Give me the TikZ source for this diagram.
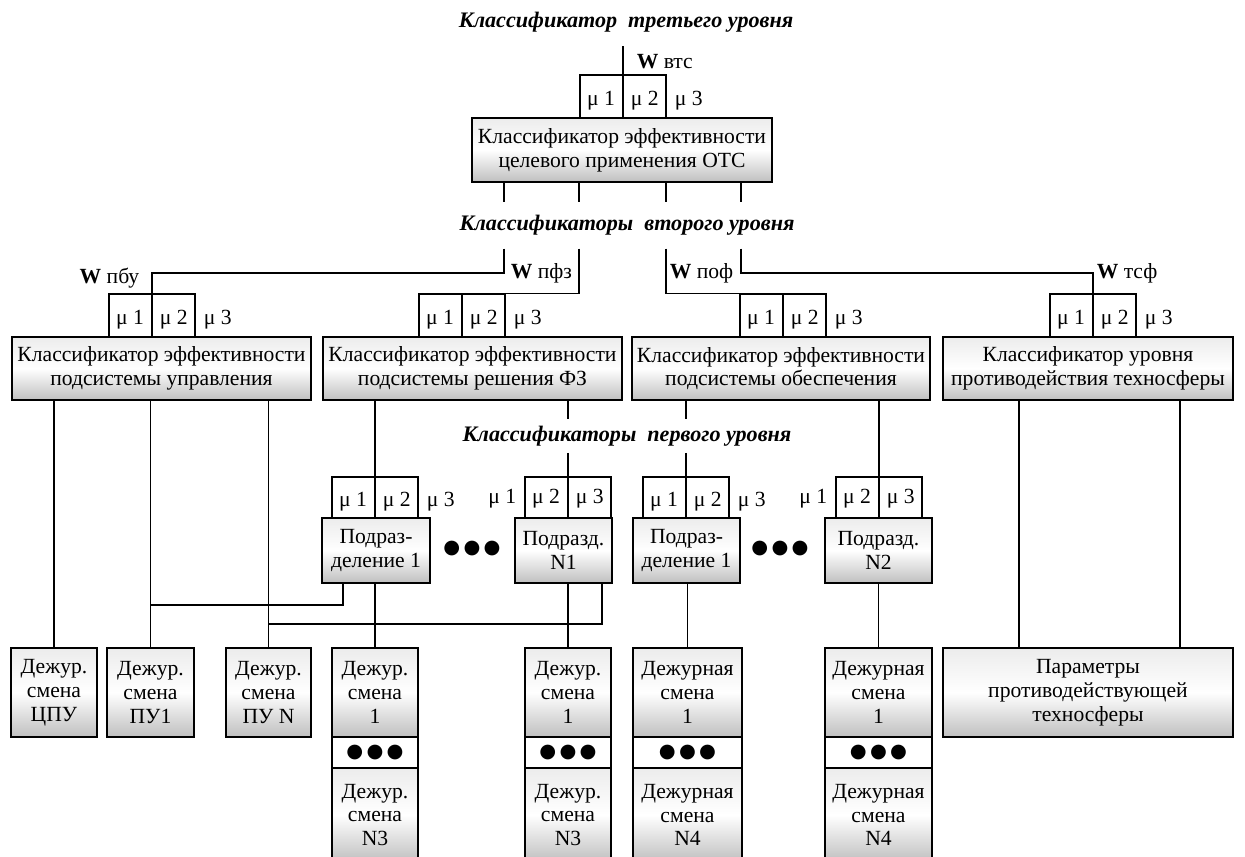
\documentclass[tikz,border=0pt]{standalone}
\usepackage{fontspec}
\setmainfont{Liberation Serif}
\newfontfamily\dotfont{DejaVu Sans}
\usetikzlibrary{calc,positioning}

\tikzset{
  cls/.style={draw, rectangle, align=center, inner sep=1pt,
    top color=gray!15, bottom color=gray!50, middle color=white,
    font=\fontsize{12.3}{13.5}\selectfont},
  mubox/.style={draw, rectangle, inner sep=0pt, minimum width=1.72cm},
  lbl/.style={inner sep=0pt, font=\fontsize{12.3}{13.5}\selectfont},
  lvl/.style={inner sep=0pt, font=\fontsize{12.6}{13.5}\selectfont\bfseries\itshape},
  dotrow/.style={draw, rectangle, fill=white, inner sep=0pt,
    minimum height=0.62cm, font=\dotfont\fontsize{11}{11}\selectfont},
}

\begin{document}
\begin{tikzpicture}[x=0.02cm, y=-0.02cm, line width=0.85pt]
\useasboundingbox (0,0) rectangle (1245,856);

% third level
\node[lvl] (lvl3) at (626,22) {Классификатор~ третьего уровня};
\node[mubox, minimum height=0.86cm] (mu-top) at (623,96.5) {};
\node[cls, minimum width=6cm, minimum height=1.28cm] (top) at (622,150)
  {Классификатор эффективности\\целевого применения ОТС};
\node[lbl, anchor=west] (wvts) at (636,62) {\textbf{W} втс};
\coordinate (wtop) at (623,46);

% second level
\node[lvl, minimum height=0.9cm] (lvl2) at (627,225.5) {Классификаторы~ второго уровня};
\node[mubox, minimum height=0.86cm] (mu-upr) at (152,315.5) {};
\node[mubox, minimum height=0.86cm] (mu-fz) at (462,315.5) {};
\node[mubox, minimum height=0.86cm] (mu-obs) at (783,315.5) {};
\node[mubox, minimum height=0.86cm] (mu-tsf) at (1093,315.5) {};
\node[cls, minimum width=5.98cm, minimum height=1.26cm] (upr) at (161.5,368.5)
  {Классификатор эффективности\\подсистемы управления};
\node[cls, minimum width=5.98cm, minimum height=1.26cm] (fz) at (472.5,368.5)
  {Классификатор эффективности\\подсистемы решения ФЗ};
\node[cls, minimum width=5.96cm, minimum height=1.26cm] (obs) at (781,368.5)
  {Классификатор эффективности\\подсистемы обеспечения};
\node[cls, minimum width=5.8cm, minimum height=1.26cm] (tsf) at (1088,368.5)
  {Классификатор уровня\\противодействия техносферы};
\node[lbl, anchor=east] (wpbu) at (140,278) {\textbf{W} пбу};
\node[lbl, anchor=west] (wpfz) at (510,273) {\textbf{W} пфз};
\node[lbl, anchor=west] (wpof) at (669,273) {\textbf{W} поф};
\node[lbl, anchor=west] (wtsf) at (1096,273) {\textbf{W} тсф};

% first level
\node[lvl, minimum height=0.64cm] (lvl1) at (627,436) {Классификаторы~ первого уровня};
\node[mubox, minimum height=0.82cm] (mu-p1) at (375,497.5) {};
\node[mubox, minimum height=0.82cm] (mu-n1) at (568,497.5) {};
\node[mubox, minimum height=0.82cm] (mu-p2) at (686,497.5) {};
\node[mubox, minimum height=0.82cm] (mu-n2) at (879,497.5) {};
\node[cls, minimum width=2.16cm, minimum height=1.3cm] (p1) at (376,550.5) {Подраз-\\деление 1};
\node[cls, minimum width=1.94cm, minimum height=1.3cm] (n1) at (563.5,550.5) {Подразд.\\N1};
\node[cls, minimum width=2.14cm, minimum height=1.3cm] (p2) at (686.5,550.5) {Подраз-\\деление 1};
\node[cls, minimum width=2.14cm, minimum height=1.3cm] (n2) at (878.5,550.5) {Подразд.\\N2};
\node[lbl, font=\dotfont\fontsize{11}{11}\selectfont] (dots1) at (472,548) {●\,●\,●};
\node[lbl, font=\dotfont\fontsize{11}{11}\selectfont] (dots2) at (780,548) {●\,●\,●};

% duty shifts
\node[cls, minimum width=1.72cm, minimum height=1.78cm] (cpu) at (54,692.5) {Дежур.\\смена\\ЦПУ};
\node[cls, minimum width=1.74cm, minimum height=1.78cm] (pu1) at (150.5,692.5) {Дежур.\\смена\\ПУ1};
\node[cls, minimum width=1.7cm, minimum height=1.78cm] (puN) at (268.5,692.5) {Дежур.\\смена\\ПУ N};
\node[cls, minimum width=1.72cm, minimum height=1.78cm] (dA1) at (375,692.5) {Дежур.\\смена\\1};
\node[dotrow, minimum width=1.72cm, below=-0.85pt of dA1] (dAd) {●\,●\,●};
\node[cls, minimum width=1.72cm, minimum height=1.88cm, below=-0.85pt of dAd] (dA2) {Дежур.\\смена\\N3};
\node[cls, minimum width=1.72cm, minimum height=1.78cm] (dB1) at (568,692.5) {Дежур.\\смена\\1};
\node[dotrow, minimum width=1.72cm, below=-0.85pt of dB1] (dBd) {●\,●\,●};
\node[cls, minimum width=1.72cm, minimum height=1.88cm, below=-0.85pt of dBd] (dB2) {Дежур.\\смена\\N3};
\node[cls, minimum width=2.18cm, minimum height=1.78cm] (dC1) at (687.5,692.5) {Дежурная\\смена\\1};
\node[dotrow, minimum width=2.18cm, below=-0.85pt of dC1] (dCd) {●\,●\,●};
\node[cls, minimum width=2.18cm, minimum height=1.88cm, below=-0.85pt of dCd] (dC2) {Дежурная\\смена\\N4};
\node[cls, minimum width=2.14cm, minimum height=1.78cm] (dD1) at (878.5,692.5) {Дежурная\\смена\\1};
\node[dotrow, minimum width=2.14cm, below=-0.85pt of dD1] (dDd) {●\,●\,●};
\node[cls, minimum width=2.14cm, minimum height=1.88cm, below=-0.85pt of dDd] (dD2) {Дежурная\\смена\\N4};
\node[cls, minimum width=5.8cm, minimum height=1.78cm] (par) at (1088,692.5)
  {Параметры\\противодействующей\\техносферы};

% mu labels
\foreach \m in {mu-top,mu-upr,mu-fz,mu-obs,mu-tsf,mu-p1,mu-p2}{
  \draw (\m.north) -- (\m.south);
  \node[lbl] (\m-1) at ($(\m.west)!0.5!(\m.center)+(0,4)$) {μ 1};
  \node[lbl] (\m-2) at ($(\m.east)!0.5!(\m.center)+(0,4)$) {μ 2};
  \node[lbl] (\m-3) at ($(\m.east)+(22,4)$) {μ 3};
}
\foreach \m in {mu-n1,mu-n2}{
  \draw (\m.north) -- (\m.south);
  \node[lbl] (\m-1) at ($(\m.west)+(-22,1)$) {μ 1};
  \node[lbl] (\m-2) at ($(\m.west)!0.5!(\m.center)+(0,1)$) {μ 2};
  \node[lbl] (\m-3) at ($(\m.east)!0.5!(\m.center)+(0,1)$) {μ 3};
}

% connectors, third to second level
\coordinate (ta) at (504,0);
\coordinate (tb) at (579,0);
\coordinate (tc) at (666,0);
\coordinate (td) at (741,0);
\coordinate (cpbu) at (152,273);
\coordinate (ctsf) at (1093,273);
\draw (wtop) -- (mu-top.south);
\foreach \t in {ta,tb,tc,td}
  \draw (top.south -| \t) -- (lvl2.north -| \t);
\draw (lvl2.south -| ta) |- (cpbu) -- (mu-upr.south);
\draw (lvl2.south -| tb) |- (mu-fz.north east);
\draw (lvl2.south -| tc) |- (mu-obs.north west);
\draw (lvl2.south -| td) |- (ctsf) -- (mu-tsf.south);

% connectors, second to first level
\draw (cpu.north |- upr.south) -- (cpu.north);
\draw (pu1.north |- upr.south) -- (pu1.north);
\draw (puN.north |- upr.south) -- (puN.north);
\draw (mu-p1.north |- fz.south) -- (mu-p1.south);
\draw (mu-n1.north |- fz.south) -- (mu-n1.north |- lvl1.north);
\draw (mu-n1.north |- lvl1.south) -- (mu-n1.south);
\draw (mu-p2.north |- obs.south) -- (mu-p2.north |- lvl1.north);
\draw (mu-p2.north |- lvl1.south) -- (mu-p2.south);
\draw (mu-n2.north |- obs.south) -- (mu-n2.south);
\coordinate (pa) at (1019,0);
\coordinate (pb) at (1180,0);
\draw (tsf.south -| pa) -- (par.north -| pa);
\draw (tsf.south -| pb) -- (par.north -| pb);

% connectors, first level to shifts
\coordinate (j1) at (343,605);
\coordinate (j2) at (602,624);
\draw (dA1.north |- p1.south) -- (dA1.north);
\draw (dB1.north |- n1.south) -- (dB1.north);
\draw (dC1.north |- p2.south) -- (dC1.north);
\draw (dD1.north |- n2.south) -- (dD1.north);
\draw (p1.south -| j1) |- (pu1.north |- j1);
\draw (n1.south -| j2) |- (puN.north |- j2);
\end{tikzpicture}
\end{document}
